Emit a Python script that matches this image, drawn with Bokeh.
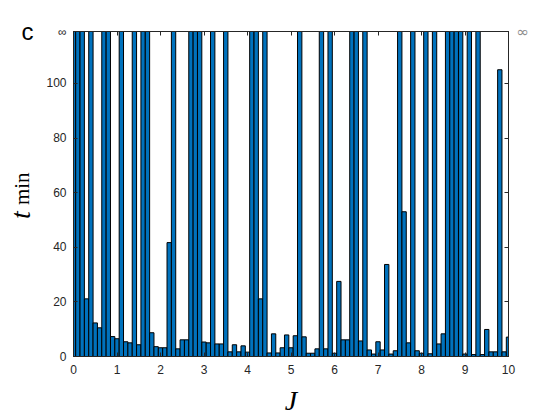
import numpy as np
from bokeh.plotting import figure
from bokeh.models import Range1d, LinearAxis, FixedTicker, ColumnDataSource
from bokeh.embed import file_html
from bokeh.resources import INLINE

INF = np.inf
# J values (0 to 10, step 0.1) and minimal times t_min (inf = never)
J = [round(0.1 * k, 1) for k in range(101)]
t_min = [
    INF, INF, INF, 21.1, INF, 12.3, 10.5, INF, INF, 7.3,
    6.5, INF, 5.4, 5.0, INF, 4.3, INF, INF, 8.7, 3.6,
    3.2, 3.2, 41.7, INF, 2.8, 6.1, 6.1, INF, INF, INF,
    5.3, 5.0, INF, 4.6, 4.6, INF, 1.7, 4.3, 1.7, 3.9,
    1.6, INF, INF, 21.1, INF, 1.3, 8.3, 1.3, 3.2, 7.9,
    3.2, 7.6, INF, 7.2, 1.2, 1.2, 2.8, INF, 2.8, INF,
    1.2, 27.5, 6.1, 6.1, INF, INF, 5.7, INF, 2.4, 0.9,
    5.4, 2.4, 33.7, 0.9, 2.1, INF, 53.0, 5.0, INF, 2.1,
    1.2, INF, 1.0, INF, 4.6, 8.3, INF, INF, INF, INF,
    0.9, INF, 0.7, INF, 0.7, 9.9, 1.7, 1.7, 105.0, 1.7,
    7.1,
]
x_ticks = [0, 1, 2, 3, 4, 5, 6, 7, 8, 9, 10]
y_ticks = [0, 20, 40, 60, 80, 100]
Y_TOP = 119  # top of axis, labelled as infinity
NB = "\u00a0"

tops = [v if np.isfinite(v) else 10 * Y_TOP for v in t_min]
src = ColumnDataSource(dict(J=J, top=tops))

p = figure(width=548, height=418, output_backend="svg", toolbar_location=None,
           x_range=Range1d(0, 10), y_range=Range1d(0, Y_TOP),
           min_border_left=73, min_border_right=40, min_border_top=31,
           min_border_bottom=62, background_fill_color="white",
           border_fill_color="white")
p.xgrid.visible = False
p.ygrid.visible = False
p.outline_line_color = "#262626"
p.outline_line_width = 1

p.vbar(x="J", top="top", bottom=0, width=0.1, source=src,
       fill_color="#0072BD", line_color="black", line_width=1)

AX = "#262626"


def style(ax, size="12px"):
    ax.axis_line_color = AX
    ax.major_tick_line_color = AX
    ax.major_tick_in = 4
    ax.major_tick_out = 0
    ax.minor_tick_line_color = None
    ax.major_label_text_font = "Liberation Sans"
    ax.major_label_text_font_size = size
    ax.major_label_text_color = AX


# bottom
xa = p.xaxis[0]
xa.ticker = FixedTicker(ticks=x_ticks)
style(xa)
xa.major_label_standoff = 8
xa.axis_label = "J"
xa.axis_label_text_font = "Liberation Serif"
xa.axis_label_text_font_style = "italic"
xa.axis_label_text_font_size = "28px"
xa.axis_label_text_color = "black"
xa.axis_label_standoff = 8

# left (numbers, subscript "min" as its label)
ya = p.yaxis[0]
ya.ticker = FixedTicker(ticks=y_ticks + [Y_TOP])
ya.major_label_overrides = {Y_TOP: "∞"}
style(ya)
ya.major_label_standoff = 7
ya.axis_label = NB * 2 + "min"
ya.axis_label_text_font = "Liberation Serif"
ya.axis_label_text_font_style = "normal"
ya.axis_label_text_font_size = "21px"
ya.axis_label_text_color = "black"
ya.axis_label_standoff = 9

# outer left axis: panel letter "c" and italic "t"
outer = LinearAxis(ticker=FixedTicker(ticks=[Y_TOP]))
outer.major_label_overrides = {Y_TOP: "c"}
outer.axis_line_color = None
outer.major_tick_line_color = None
outer.minor_tick_line_color = None
outer.major_tick_in = 0
outer.major_tick_out = 0
outer.major_label_text_font = "Liberation Sans"
outer.major_label_text_font_size = "24px"
outer.major_label_text_color = "black"
outer.major_label_standoff = -26
outer.axis_label = "t" + NB * 6
outer.axis_label_text_font = "Liberation Serif"
outer.axis_label_text_font_style = "italic"
outer.axis_label_text_font_size = "28px"
outer.axis_label_text_color = "black"
outer.axis_label_standoff = -17
p.add_layout(outer, "left")

# top
top_ax = LinearAxis(ticker=FixedTicker(ticks=x_ticks))
top_ax.major_label_overrides = {t: "" for t in x_ticks}
style(top_ax)
top_ax.major_label_standoff = 0
p.add_layout(top_ax, "above")

# right
right_ax = LinearAxis(ticker=FixedTicker(ticks=y_ticks + [Y_TOP]))
right_ax.major_label_overrides = {t: "" for t in y_ticks}
right_ax.major_label_overrides[Y_TOP] = "∞"
style(right_ax, "15px")
right_ax.major_label_text_font = "DejaVu Sans"
right_ax.major_label_text_color = "#8c8c8c"
right_ax.major_label_standoff = 8
p.add_layout(right_ax, "right")

open("out.html", "w").write(file_html(p, INLINE))
